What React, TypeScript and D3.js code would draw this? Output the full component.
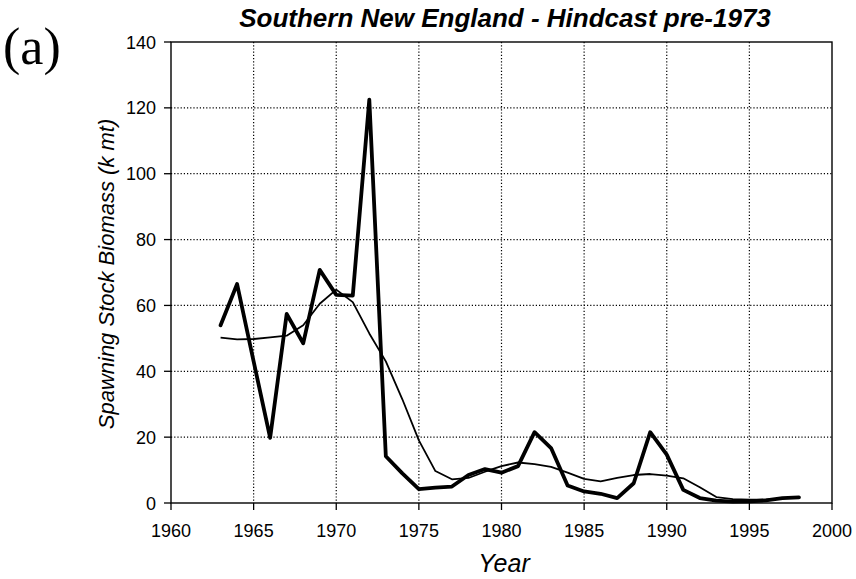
import React from "react";
import * as d3 from "d3";

const years = [
  1963, 1964, 1965, 1966, 1967, 1968, 1969, 1970, 1971, 1972, 1973, 1974,
  1975, 1976, 1977, 1978, 1979, 1980, 1981, 1982, 1983, 1984, 1985, 1986,
  1987, 1988, 1989, 1990, 1991, 1992, 1993, 1994, 1995, 1996, 1997, 1998,
];

// thick line
const ssbObserved = [
  54, 66.5, 43, 19.8, 57.4, 48.5, 70.8, 63.2, 63, 122.5, 14.2, 9,
  4.2, 4.7, 5, 8.5, 10.3, 9.2, 11.2, 21.5, 16.7, 5.3, 3.5, 2.8,
  1.5, 6, 21.5, 14.7, 4, 1.5, 0.7, 0.4, 0.5, 0.8, 1.5, 1.7,
];

// thin line
const ssbHindcast = [
  50.2, 49.7, 49.8, 50.3, 50.8, 54, 60.5, 64.8, 61, 51.5, 43, 31.5,
  19, 9.7, 7.2, 7.6, 9.5, 11.2, 12.3, 11.8, 11, 9.2, 7.3, 6.6,
  7.6, 8.5, 8.8, 8.3, 7.5, 4.8, 1.8, 1.2, 1.0, 1.0, 1.4, 1.8,
];

const xTicks = [1960, 1965, 1970, 1975, 1980, 1985, 1990, 1995, 2000];
const yTicks = [0, 20, 40, 60, 80, 100, 120, 140];

const W = 856;
const H = 579;
const L = 171;
const R = 832;
const T = 42;
const B = 503;

export default function App() {
  const x = d3.scaleLinear().domain([1960, 2000]).range([L, R]);
  const y = d3.scaleLinear().domain([0, 140]).range([B, T]);
  const line = d3
    .line<number>()
    .x((_, i) => x(years[i]))
    .y((d) => y(d));

  const font = "'Liberation Sans', Arial, sans-serif";

  return (
    <div style={{ position: "fixed", left: 0, top: 0 }}>
      <svg width={W} height={H} viewBox={`0 0 ${W} ${H}`} style={{ display: "block", background: "#fff" }}>
        <rect x={0} y={0} width={W} height={H} fill="#fff" />
        {/* gridlines */}
        {xTicks.filter((t) => t > 1960 && t < 2000).map((t) => (
          <line key={"gx" + t} x1={x(t)} x2={x(t)} y1={T} y2={B} stroke="#000" strokeWidth={1.2} strokeDasharray="1.2,2" />
        ))}
        {yTicks.filter((t) => t > 0 && t < 140).map((t) => (
          <line key={"gy" + t} x1={L} x2={R} y1={y(t)} y2={y(t)} stroke="#000" strokeWidth={1.2} strokeDasharray="1.2,2" />
        ))}
        {/* series */}
        <path d={line(ssbHindcast) || ""} fill="none" stroke="#000" strokeWidth={1.8} strokeLinejoin="round" />
        <path d={line(ssbObserved) || ""} fill="none" stroke="#000" strokeWidth={3.8} strokeLinejoin="round" strokeLinecap="round" />
        {/* frame */}
        <rect x={L} y={T} width={R - L} height={B - T} fill="none" stroke="#000" strokeWidth={1.4} />
        {/* ticks */}
        {xTicks.map((t) => (
          <g key={"tx" + t}>
            <line x1={x(t)} x2={x(t)} y1={B} y2={B + 7} stroke="#000" strokeWidth={1.3} />
            <text x={x(t)} y={537} textAnchor="middle" fontFamily={font} fontSize={18}>
              {t}
            </text>
          </g>
        ))}
        {yTicks.map((t) => (
          <g key={"ty" + t}>
            <line x1={L - 7} x2={L} y1={y(t)} y2={y(t)} stroke="#000" strokeWidth={1.3} />
            <text x={156} y={y(t) + 6.6} textAnchor="end" fontFamily={font} fontSize={18}>
              {t}
            </text>
          </g>
        ))}
        {/* labels */}
        <text x={504} y={572} textAnchor="middle" fontFamily={font} fontSize={25} fontStyle="italic">
          Year
        </text>
        <text
          transform={`translate(114, ${(T + B) / 2 + 1.5}) rotate(-90)`}
          textAnchor="middle"
          fontFamily={font}
          fontSize={22}
          fontStyle="italic"
        >
          Spawning Stock Biomass (k mt)
        </text>
        <text x={505} y={27} textAnchor="middle" fontFamily={font} fontSize={26} fontStyle="italic" fontWeight="bold">
          Southern New England - Hindcast pre-1973
        </text>
        <text x={3} y={64} fontFamily="'Liberation Serif', 'Times New Roman', serif" fontSize={52}>
          (a)
        </text>
      </svg>
    </div>
  );
}
